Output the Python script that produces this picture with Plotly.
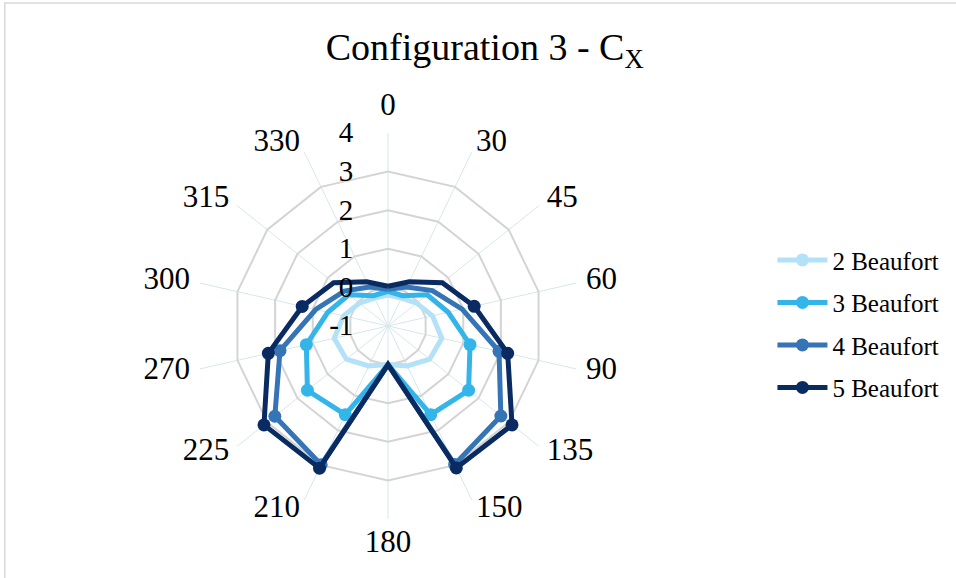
import plotly.graph_objects as go

categories = ["0", "30", "45", "60", "90", "135", "150", "180", "210", "225", "270", "300", "315", "330"]
series_names = ["2 Beaufort", "3 Beaufort", "4 Beaufort", "5 Beaufort"]
bf2 = [-0.2, -0.2, -0.05, 0.18, 0.43, 0.38, 0.15, 0.0, 0.15, 0.38, 0.43, 0.18, -0.05, -0.2]
bf3 = [-0.1, -0.13, 0.3, 0.6, 1.18, 1.67, 1.55, 0.0, 1.55, 1.67, 1.17, 0.6, 0.3, -0.13]
bf4 = [-0.05, 0.12, 0.47, 0.97, 1.95, 2.74, 2.98, 0.0, 2.99, 2.75, 1.87, 0.92, 0.45, 0.12]
bf5 = [0.03, 0.27, 0.80, 1.29, 2.18, 3.11, 3.08, 0.0, 3.09, 3.11, 2.18, 1.28, 0.80, 0.27]
radial_ticks = [-1, 0, 1, 2, 3, 4]
radial_labels = ["-1", "0", "1", "2", "3", "4"]

colors = ["#b3e1f7", "#33b5ea", "#3575b5", "#0a2b62"]
FONT = "Liberation Serif, Times New Roman, serif"
R_MIN, R_MAX = radial_ticks[0], radial_ticks[-1]
W, H = 956, 578
CX, CY, RAD = 388, 326, 193      # chart centre / outer radius (px)
LAB_RAD = 203                    # radius of the category-label ring (px)

fig = go.Figure()
for name, vals, col in zip(series_names, [bf2, bf3, bf4, bf5], colors):
    fig.add_trace(go.Scatterpolar(
        r=vals + vals[:1],
        theta=categories + categories[:1],
        mode="lines+markers",
        name=name,
        legendgroup=name,
        line=dict(color=col, width=5),
        marker=dict(color=col, size=13),
        subplot="polar",
    ))

# category labels, Excel-style, on an invisible slightly larger polar ring
n = len(categories)
half = n // 2
label_pos = []
for i in range(n):
    if i == 0:
        label_pos.append("top center")
    elif i == half:
        label_pos.append("bottom center")
    elif i < half:
        label_pos.append("middle right")
    else:
        label_pos.append("middle left")

fig.add_trace(go.Scatterpolar(
    r=[R_MAX] * n,
    theta=categories,
    mode="text",
    text=categories,
    textposition=label_pos,
    textfont=dict(size=31, family=FONT, color="black"),
    cliponaxis=False,
    showlegend=False,
    hoverinfo="skip",
    subplot="polar2",
))

def dom(rad):
    return dict(x=[(CX - rad) / W, (CX + rad) / W], y=[1 - (CY + rad) / H, 1 - (CY - rad) / H])

fig.update_layout(
    width=W, height=H,
    margin=dict(l=0, r=0, t=0, b=0),
    paper_bgcolor="white",
    plot_bgcolor="white",
    font=dict(family=FONT, color="black"),
    title=dict(text="Configuration 3 - C<sub>X</sub>", x=0.507, xanchor="center",
               y=0.92, yanchor="middle", font=dict(size=38, family=FONT, color="black")),
    polar=dict(
        domain=dom(RAD),
        bgcolor="white",
        gridshape="linear",
        angularaxis=dict(
            type="category",
            categoryarray=categories,
            direction="clockwise",
            rotation=90,
            showline=False,
            gridcolor="#d6e7ec",
            gridwidth=1.2,
            ticks="",
            showticklabels=False,
        ),
        radialaxis=dict(
            range=[R_MIN, R_MAX],
            tickvals=radial_ticks,
            ticktext=radial_labels,
            angle=90,
            tickangle=90,
            side="counterclockwise",
            showline=False,
            gridcolor="#d4d4d4",
            gridwidth=1.6,
            ticks="outside", ticklen=24, tickcolor="rgba(0,0,0,0)",
            tickfont=dict(size=29, family=FONT, color="black"),
        ),
    ),
    polar2=dict(
        domain=dom(LAB_RAD),
        bgcolor="rgba(0,0,0,0)",
        gridshape="linear",
        angularaxis=dict(
            type="category",
            categoryarray=categories,
            direction="clockwise",
            rotation=90,
            visible=False,
        ),
        radialaxis=dict(range=[R_MIN, R_MAX], visible=False),
    ),
    legend=dict(
        x=0.808, y=0.44, xanchor="left", yanchor="middle",
        font=dict(size=25, family=FONT, color="black"),
        tracegroupgap=7,
        itemwidth=50,
        bgcolor="rgba(0,0,0,0)",
    ),
    showlegend=True,
    shapes=[dict(type="rect", xref="paper", yref="paper", x0=0.005, y0=-0.02, x1=1.02, y1=0.995,
                 line=dict(color="#d9d9d9", width=1.5), fillcolor="rgba(0,0,0,0)", layer="below")],
)

fig.write_html("out.html")
